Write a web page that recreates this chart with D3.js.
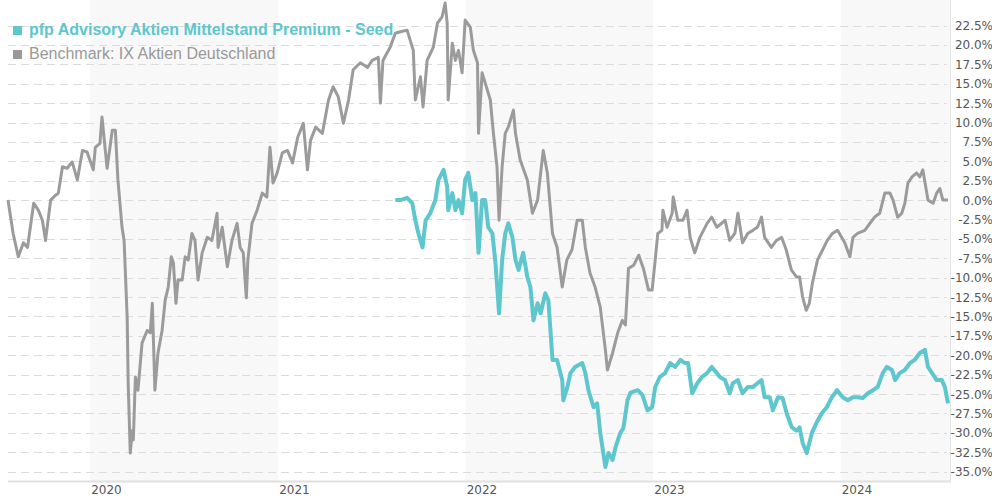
<!DOCTYPE html>
<html>
<head>
<meta charset="utf-8">
<script src="https://cdn.jsdelivr.net/npm/d3@7/dist/d3.min.js"></script>
<style>
  html, body { margin: 0; padding: 0; background: #fff; }
  svg { display: block; }
</style>
</head>
<body>
<svg id="chart" width="992" height="500"></svg>
<script>
// ---------- DATA ----------
const seriesNames = ["pfp Advisory Aktien Mittelstand Premium - Seed", "Benchmark: IX Aktien Deutschland"];

const benchDates = [
"2019-07-25","2019-08-04","2019-08-14","2019-08-24","2019-09-01","2019-09-13","2019-09-22","2019-09-30","2019-10-06","2019-10-16","2019-10-25","2019-10-31","2019-11-08","2019-11-17","2019-11-27","2019-12-07","2019-12-17","2019-12-26",
"2020-01-07","2020-01-11","2020-01-20","2020-01-24","2020-02-03","2020-02-13","2020-02-19","2020-02-24","2020-03-03","2020-03-07","2020-03-13","2020-03-15","2020-03-19","2020-03-23","2020-03-25","2020-03-29","2020-04-03","2020-04-11","2020-04-21","2020-04-27","2020-05-01","2020-05-06","2020-05-12","2020-05-20","2020-05-26","2020-06-01","2020-06-07","2020-06-11","2020-06-16","2020-06-20","2020-06-28","2020-07-04","2020-07-10","2020-07-17","2020-07-23","2020-07-29","2020-08-06","2020-08-16","2020-08-25","2020-09-04","2020-09-06","2020-09-14","2020-09-24","2020-10-03","2020-10-13","2020-10-19","2020-10-25","2020-10-31","2020-11-03","2020-11-11","2020-11-21","2020-12-01","2020-12-10","2020-12-16","2020-12-22","2020-12-30",
"2021-01-09","2021-01-19","2021-01-29","2021-02-08","2021-02-19","2021-02-27","2021-03-05","2021-03-15","2021-03-28","2021-04-09","2021-04-18","2021-04-28","2021-05-08","2021-05-18","2021-05-27","2021-06-10","2021-06-24","2021-07-03","2021-07-15","2021-07-19","2021-07-24","2021-08-07","2021-08-17","2021-08-27","2021-09-09","2021-09-21","2021-09-25","2021-10-05","2021-10-10","2021-10-18","2021-10-30","2021-11-07","2021-11-16","2021-11-22","2021-11-26","2021-11-28","2021-12-06","2021-12-12","2021-12-18","2021-12-25","2021-12-31",
"2022-01-10","2022-01-16","2022-01-24","2022-01-26","2022-02-02","2022-02-08","2022-02-18","2022-02-24","2022-03-03","2022-03-07","2022-03-13","2022-03-19","2022-03-25","2022-04-04","2022-04-08","2022-04-17","2022-05-01","2022-05-11","2022-05-21","2022-06-01","2022-06-09","2022-06-19","2022-06-28","2022-07-08","2022-07-17","2022-07-27","2022-08-06","2022-08-16","2022-08-22","2022-08-31","2022-09-10","2022-09-20","2022-09-30","2022-10-04","2022-10-14","2022-10-24","2022-11-02","2022-11-08","2022-11-14","2022-11-24","2022-12-04","2022-12-13","2022-12-23","2022-12-30",
"2023-01-05","2023-01-10","2023-01-18","2023-01-20","2023-01-28","2023-02-07","2023-02-09","2023-02-18","2023-02-28","2023-03-08","2023-03-14","2023-03-23","2023-04-02","2023-04-16","2023-04-25","2023-05-05","2023-05-21","2023-05-30","2023-06-09","2023-06-15","2023-06-24","2023-07-04","2023-07-14","2023-07-23","2023-07-31","2023-08-06","2023-08-19","2023-08-29","2023-09-08","2023-09-17","2023-09-27","2023-10-07","2023-10-13","2023-10-19","2023-10-26","2023-11-01","2023-11-07","2023-11-17","2023-11-27","2023-12-06","2023-12-16","2023-12-26",
"2024-01-09","2024-01-19","2024-01-25","2024-02-03","2024-02-17","2024-02-27","2024-03-07","2024-03-17","2024-03-27","2024-04-06","2024-04-12","2024-04-21","2024-04-29","2024-05-05","2024-05-11","2024-05-19","2024-05-28","2024-06-03","2024-06-09","2024-06-19","2024-06-29","2024-07-06","2024-07-12","2024-07-18","2024-07-28"
];
const benchValues = [
0.0,-4.3,-7.3,-5.5,-6.1,-0.4,-1.3,-2.6,-5.2,0.0,0.6,0.9,4.3,4.1,4.9,2.6,6.4,6.2,
3.9,6.8,7.3,10.7,4.1,9.0,9.0,2.6,-3.5,-5.2,-15.1,-23.6,-32.6,-29.7,-30.9,-22.8,-24.5,-18.4,-16.8,-17.1,-13.3,-24.5,-19.7,-16.8,-12.9,-11.2,-7.3,-8.1,-13.3,-10.3,-10.3,-7.3,-7.7,-4.3,-5.2,-10.3,-6.8,-4.8,-5.2,-1.7,-6.1,-3.5,-8.6,-5.2,-3.0,-6.1,-6.8,-12.6,-7.7,-3.0,-1.3,0.9,0.4,6.8,2.2,3.5,
6.1,6.4,4.8,8.1,9.9,3.9,7.7,9.4,8.6,12.9,14.6,13.3,9.9,12.9,16.8,17.7,17.1,18.0,18.4,12.5,18.0,19.7,21.5,21.7,21.9,19.3,12.9,15.9,12.0,18.0,19.7,22.8,23.6,25.4,22.8,12.9,20.2,18.0,19.3,16.4,23.2,
22.3,19.3,17.7,8.6,16.4,15.1,12.9,8.6,4.3,-2.6,4.3,8.6,9.4,11.6,8.6,5.2,2.6,-1.7,0.0,6.4,3.5,-4.3,-6.1,-11.2,-7.7,-6.4,-2.6,-2.6,-6.1,-9.4,-11.2,-13.8,-19.3,-21.9,-19.7,-17.1,-15.5,-16.1,-8.8,-8.4,-7.1,-8.8,-11.6,-11.6,
-7.7,-4.3,-3.9,-1.3,-3.5,-1.7,0.4,-2.6,-2.6,-1.3,-4.8,-6.8,-4.8,-3.0,-2.2,-3.5,-2.6,-5.2,-4.3,-1.7,-5.5,-4.3,-3.9,-3.5,-2.2,-4.8,-6.1,-5.2,-4.8,-6.4,-9.0,-9.9,-9.9,-12.5,-14.2,-13.3,-10.7,-7.7,-6.4,-5.2,-4.3,-3.9,
-5.5,-7.3,-4.8,-4.3,-3.9,-3.0,-2.2,-1.7,0.9,0.9,0.0,-2.2,-1.7,-0.4,2.2,3.0,3.5,3.0,3.9,0.0,-0.4,0.9,1.5,0.0,0.0
];

const fundDates = [
"2021-08-17","2021-08-27","2021-09-09","2021-09-19","2021-09-25","2021-10-01","2021-10-09","2021-10-15","2021-10-24","2021-11-03","2021-11-09","2021-11-19","2021-11-26","2021-11-28","2021-12-06","2021-12-12","2021-12-18","2021-12-25","2021-12-31",
"2022-01-06","2022-01-14","2022-01-20","2022-01-26","2022-02-02","2022-02-08","2022-02-14","2022-02-22","2022-02-28","2022-03-07","2022-03-13","2022-03-19","2022-03-25","2022-04-02","2022-04-08","2022-04-14","2022-04-23","2022-05-01","2022-05-07","2022-05-13","2022-05-21","2022-05-27","2022-06-05","2022-06-11","2022-06-19","2022-06-28","2022-07-08","2022-07-10","2022-07-18","2022-07-24","2022-08-02","2022-08-16","2022-08-22","2022-08-28","2022-09-07","2022-09-14","2022-09-20","2022-09-30","2022-10-06","2022-10-14","2022-10-20","2022-10-29","2022-11-04","2022-11-12","2022-11-18","2022-12-02","2022-12-11","2022-12-21","2022-12-30",
"2023-01-05","2023-01-14","2023-01-24","2023-02-03","2023-02-13","2023-02-23","2023-03-04","2023-03-10","2023-03-18","2023-03-28","2023-04-06","2023-04-16","2023-04-25","2023-05-05","2023-05-11","2023-05-21","2023-05-30","2023-06-05","2023-06-15","2023-06-24","2023-07-04","2023-07-14","2023-07-23","2023-07-31","2023-08-06","2023-08-16","2023-08-22","2023-09-01","2023-09-10","2023-09-18","2023-09-28","2023-10-07","2023-10-13","2023-10-19","2023-10-27","2023-11-06","2023-11-15","2023-11-25","2023-12-05","2023-12-15","2023-12-25",
"2024-01-05","2024-01-15","2024-01-25","2024-02-03","2024-02-13","2024-02-23","2024-03-04","2024-03-13","2024-03-23","2024-03-31","2024-04-10","2024-04-16","2024-04-25","2024-05-05","2024-05-15","2024-05-24","2024-06-03","2024-06-13","2024-06-19","2024-06-27","2024-07-06","2024-07-16","2024-07-22","2024-07-28"
];
const fundValues = [
0.0,0.0,0.3,-0.4,-2.6,-4.3,-6.1,-2.6,-1.7,0.0,2.6,3.9,1.7,-1.3,0.9,-1.3,0.0,-1.7,2.6,
3.5,0.0,0.9,-6.8,0.0,0.0,-3.5,-4.3,-8.1,-14.6,-7.7,-4.3,-3.0,-4.8,-7.7,-9.0,-6.8,-9.9,-11.2,-15.5,-13.3,-14.6,-12.0,-12.9,-20.6,-20.6,-23.2,-25.8,-24.1,-22.3,-21.5,-21.0,-22.3,-24.5,-26.7,-26.2,-30.0,-34.4,-32.6,-33.5,-31.8,-30.0,-29.4,-25.8,-24.8,-24.5,-25.1,-27.1,-26.7,
-24.1,-22.8,-22.3,-21.0,-21.5,-20.6,-21.0,-21.0,-24.9,-23.6,-22.8,-22.3,-21.5,-22.3,-22.8,-23.2,-24.9,-23.6,-23.2,-24.9,-24.1,-24.1,-23.6,-23.2,-25.4,-25.4,-27.1,-25.4,-25.5,-27.5,-29.3,-29.7,-29.3,-31.3,-32.6,-30.0,-28.7,-27.5,-26.7,-25.4,-24.5,
-25.4,-25.8,-25.4,-25.4,-25.5,-24.9,-24.5,-24.1,-22.3,-21.5,-21.9,-23.2,-22.3,-21.9,-21.0,-20.6,-19.7,-19.3,-21.5,-22.3,-23.2,-23.2,-24.1,-26.2
];

const yTickValues = [-35,-32.5,-30,-27.5,-25,-22.5,-20,-17.5,-15,-12.5,-10,-7.5,-5,-2.5,0,2.5,5,7.5,10,12.5,15,17.5,20,22.5];
const xTickYears = ["2020","2021","2022","2023","2024"];
const shadedYears = ["2020","2022","2024"];

// ---------- CHART ----------
const parse = d3.timeParse("%Y-%m-%d");
const bench = benchDates.map((d, i) => ({ date: parse(d), value: benchValues[i] }));
const fund = fundDates.map((d, i) => ({ date: parse(d), value: fundValues[i] }));

const W = 992, H = 500;
const plotLeft = 8, plotRight = 950, plotTop = 0, plotBottom = 481;

const x = d3.scaleTime()
  .domain([parse(benchDates[0]), parse(benchDates[benchDates.length - 1])])
  .range([8, 948]);
const y = d3.scaleLinear().domain([-36.2, 25.4]).range([481, 3]);

const svg = d3.select("#chart");
svg.append("rect").attr("width", W).attr("height", H).attr("fill", "#fff");

// Alternating year bands
svg.append("g").selectAll("rect")
  .data(shadedYears)
  .join("rect")
  .attr("x", d => x(parse(d + "-01-01")))
  .attr("y", plotTop)
  .attr("width", d => Math.min(plotRight, x(parse((+d + 1) + "-01-01"))) - x(parse(d + "-01-01")))
  .attr("height", plotBottom - plotTop)
  .attr("fill", "#f8f8f8");

// Dashed grid
svg.append("g").selectAll("line")
  .data(yTickValues)
  .join("line")
  .attr("x1", plotLeft).attr("x2", plotRight - 3)
  .attr("y1", d => Math.round(y(d)) + 0.5).attr("y2", d => Math.round(y(d)) + 0.5)
  .attr("stroke", "#dcdcdc")
  .attr("stroke-width", 1)
  .attr("stroke-dasharray", "8,5");

// Axis lines
svg.append("line")
  .attr("x1", plotLeft).attr("x2", plotRight + 1)
  .attr("y1", plotBottom + 0.5).attr("y2", plotBottom + 0.5)
  .attr("stroke", "#e0e0e0").attr("stroke-width", 2);
svg.append("line")
  .attr("x1", plotRight + 0.5).attr("x2", plotRight + 0.5)
  .attr("y1", 0).attr("y2", plotBottom)
  .attr("stroke", "#e3e3e3").attr("stroke-width", 1);

// Lines
const line = d3.line().x(d => x(d.date)).y(d => y(d.value)).curve(d3.curveLinear);

svg.append("path").datum(bench)
  .attr("d", line)
  .attr("fill", "none")
  .attr("stroke", "#9b9b9b")
  .attr("stroke-width", 3)
  .attr("stroke-linejoin", "round");

svg.append("path").datum(fund)
  .attr("d", line)
  .attr("fill", "none")
  .attr("stroke", "#5ec6cd")
  .attr("stroke-width", 4)
  .attr("stroke-linejoin", "round");

// Y axis labels (right)
svg.append("g").selectAll("text")
  .data(yTickValues)
  .join("text")
  .attr("x", 993)
  .attr("y", d => y(d) + 4.5)
  .attr("text-anchor", "end")
  .attr("font-family", "'DejaVu Sans', Verdana, sans-serif")
  .attr("font-size", 12)
  .attr("fill", "#555")
  .text(d => d.toFixed(1) + "%");

// X axis labels (years)
svg.append("g").selectAll("text")
  .data(xTickYears)
  .join("text")
  .attr("x", d => x(parse(d + "-01-01")) + 1)
  .attr("y", 494)
  .attr("text-anchor", "start")
  .attr("font-family", "'DejaVu Sans', Verdana, sans-serif")
  .attr("font-size", 12)
  .attr("fill", "#555")
  .text(d => d);

// Legend
const legendColors = ["#5ec6cd", "#999999"];
const legend = svg.append("g");
seriesNames.forEach((name, i) => {
  const by = i === 0 ? 35 : 59;
  legend.append("rect")
    .attr("x", 13).attr("y", by - 9)
    .attr("width", 9).attr("height", 9)
    .attr("fill", legendColors[i]);
  legend.append("text")
    .attr("x", 29).attr("y", by)
    .attr("font-family", "'Liberation Sans', Arial, Helvetica, sans-serif")
    .attr("font-size", 16)
    .attr("font-weight", i === 0 ? "bold" : "normal")
    .attr("fill", legendColors[i])
    .text(name);
});
</script>
</body>
</html>
